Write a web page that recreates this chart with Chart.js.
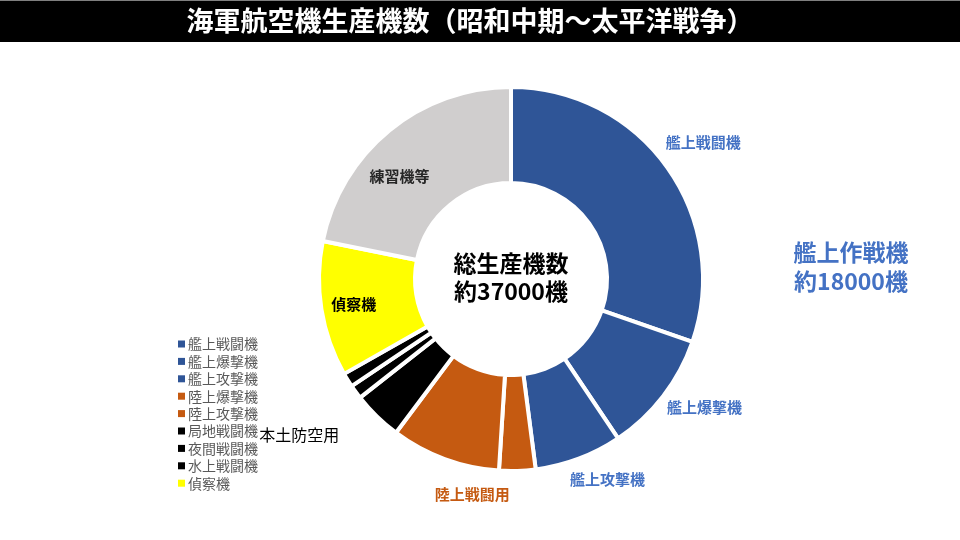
<!DOCTYPE html>
<html>
<head>
<meta charset="utf-8">
<script src="https://cdn.jsdelivr.net/npm/chart.js@4.4.1/dist/chart.umd.min.js"></script>
<style>
    html, body { margin: 0; padding: 0; background: #fff; }
    #wrap { width: 960px; height: 540px; position: relative; }
</style>
</head>
<body>
<div id="wrap"><canvas id="prod-chart" width="960" height="540"></canvas></div>
<script>
// 機種ごとの生産機数（概数）
var labels = ["艦上戦闘機", "艦上爆撃機", "艦上攻撃機", "陸上爆撃機", "陸上攻撃機", "局地戦闘機", "夜間戦闘機", "水上戦闘機", "偵察機", "練習機等"];
var values = [11200, 3800, 2720, 1130, 3410, 1540, 440, 440, 4210, 8070];
var colors = ["#2F5597", "#2F5597", "#2F5597", "#C55A11", "#C55A11", "#000000", "#000000", "#000000", "#FFFF00", "#D0CECE"];
var legendCount = 9; // 練習機等 は凡例に出さない

// グループ単位のラベル
var groupNames = ["艦上戦闘機", "艦上爆撃機", "艦上攻撃機", "陸上戦闘用", "本土防空用", "偵察機", "練習機等"];
var groupFrom = [0, 1, 2, 3, 5, 8, 9];
var groupTo = [0, 1, 2, 4, 7, 8, 9];
var groupColors = ["#4472C4", "#4472C4", "#4472C4", "#C55A11", "#000000", "#000000", "#262626"];

var title = "海軍航空機生産機数（昭和中期～太平洋戦争）";
var centerText = ["総生産機数", "約37000機"];
var sideText = ["艦上作戦機", "約18000機"];

var FONT = '"Noto Sans CJK JP", "Noto Sans", sans-serif';

// ラベル位置の調整（半径比, 角度ずらし[度]）
var labelRadius = [1.23, 1.21, 1.16, 1.14, 1.37, 0.83, 0.79];
var labelShift = [0, -4, -5, -4.5, 5, 0, -8];
var labelFont = ["bold 15px", "bold 15px", "bold 15px", "bold 15px", "16px", "bold 15px", "bold 15px"];

var decorPlugin = {
    id: 'decor',
    beforeDraw: function (chart) {
        var ctx = chart.ctx;
        ctx.save();
        ctx.fillStyle = "#000";
        ctx.fillRect(0, 0, 960, 42);
        ctx.fillStyle = "#7f7f7f";
        ctx.fillRect(0, 0, 960, 1);
        ctx.fillStyle = "#fff";
        ctx.font = "bold 27px " + FONT;
        ctx.textAlign = "center";
        ctx.textBaseline = "middle";
        ctx.fillText(title, 470, 21);
        ctx.restore();
    },
    afterDraw: function (chart) {
        var ctx = chart.ctx;
        var arcs = chart.getDatasetMeta(0).data;
        var cx = arcs[0].x, cy = arcs[0].y, R = arcs[0].outerRadius;
        ctx.save();
        ctx.textAlign = "center";
        ctx.textBaseline = "middle";

        // slice labels
        for (var g = 0; g < groupNames.length; g++) {
            var a0 = arcs[groupFrom[g]].startAngle;
            var a1 = arcs[groupTo[g]].endAngle;
            var a = (a0 + a1) / 2 + labelShift[g] * Math.PI / 180;
            var r = R * labelRadius[g];
            ctx.font = labelFont[g] + " " + FONT;
            ctx.fillStyle = groupColors[g];
            ctx.fillText(groupNames[g], cx + r * Math.cos(a), cy + r * Math.sin(a));
        }

        // center text
        ctx.fillStyle = "#000";
        ctx.font = "bold 23px " + FONT;
        ctx.fillText(centerText[0], cx, cy - 16);
        ctx.fillText(centerText[1], cx, cy + 12);

        // side text
        ctx.fillStyle = "#4472C4";
        ctx.font = "bold 23px " + FONT;
        ctx.fillText(sideText[0], 851, 252);
        ctx.fillText(sideText[1], 851, 281);

        // legend
        ctx.textAlign = "left";
        ctx.font = "14px " + FONT;
        for (var i = 0; i < legendCount; i++) {
            var y = 344 + i * 17.4;
            ctx.fillStyle = colors[i];
            ctx.fillRect(178, y - 3.5, 7, 7);
            ctx.fillStyle = "#595959";
            ctx.fillText(labels[i], 188, y);
        }
        ctx.restore();
    }
};

var ctx = document.getElementById("prod-chart").getContext("2d");
var myChart = new Chart(ctx, {
    type: 'doughnut',
    data: {
        labels: labels,
        datasets: [{
            data: values,
            backgroundColor: colors,
            borderColor: "#ffffff",
            borderWidth: 4
        }]
    },
    options: {
        responsive: false,
        animation: false,
        cutout: '50%',
        layout: {
            padding: { top: 85, bottom: 67, left: 317, right: 255 }
        },
        plugins: {
            legend: { display: false },
            tooltip: { enabled: false }
        }
    },
    plugins: [decorPlugin]
});
</script>
</body>
</html>
